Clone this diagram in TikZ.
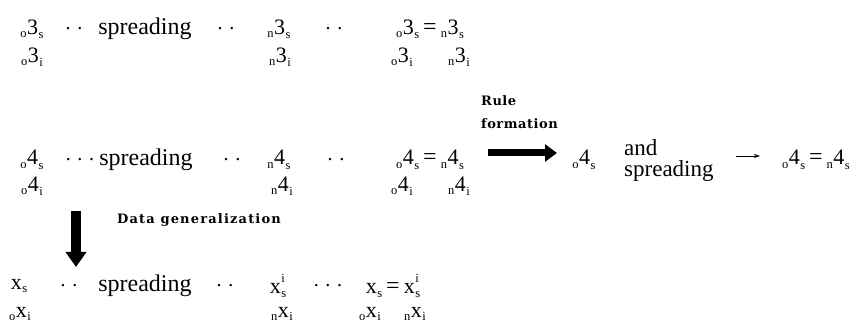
\documentclass[tikz,border=0pt]{standalone}
\usepackage{fontspec}
\setmainfont{Liberation Serif}
\newfontfamily\lblfont{DejaVu Serif}[LetterSpace=4]
\newfontfamily\dgfont{DejaVu Serif}[LetterSpace=9]
\usetikzlibrary{arrows.meta}
\newcommand{\sm}[1]{{\fontsize{12.5}{12}\selectfont #1}}
\newcommand{\bgl}[1]{{\fontsize{22}{22}\selectfont #1}}
\newcommand{\pre}[3]{\raisebox{-0.35ex}{\sm{#1}}\kern0.5pt\bgl{#2}\kern0.5pt\raisebox{-0.4ex}{\sm{#3}}}
\newcommand{\xs}[1]{\bgl{x}\kern0.5pt\raisebox{-0.3ex}{\sm{#1}}}
\newcommand{\xsup}[2]{\bgl{x}\kern0.5pt\rlap{\raisebox{1.0ex}{\sm{#2}}}\raisebox{-0.3ex}{\sm{#1}}}
\newcommand{\pxs}[2]{\raisebox{-0.35ex}{\sm{#1}}\kern0.5pt\bgl{x}\kern0.5pt\raisebox{-0.3ex}{\sm{#2}}}
\begin{document}
\begin{tikzpicture}[x=1pt,y=-1pt,
  every node/.style={inner sep=0pt,font=\fontsize{24}{24}\selectfont},
  lbl/.style={font=\lblfont\fontsize{13}{23}\selectfont\bfseries,align=left,anchor=west},
  dots/.style={font=\fontsize{20}{20}\selectfont},
  bigarrow/.style={line width=7pt,-{Triangle[length=12pt,width=17pt]}},
  smallarrow/.style={line width=0.8pt,-{Stealth[length=6pt,width=4pt]}}]
\useasboundingbox (0,0) rectangle (852,328);
% row 1
\node (a1) at (32,29) {\pre{o}{3}{s}};
\node[dots] (a1d) at (74,29) {. .};
\node (a1sp) at (145,29) {spreading};
\node[dots] (a1d2) at (226,29) {. .};
\node (a1n) at (279,29) {\pre{n}{3}{s}};
\node[dots] (a1d3) at (334,29) {. .};
\node (a1eq) at (430,29) {\pre{o}{3}{s}\,=\,\pre{n}{3}{s}};
\node (b1) at (32,57) {\pre{o}{3}{i}};
\node (b1n) at (280,57) {\pre{n}{3}{i}};
\node (b1o) at (402,57) {\pre{o}{3}{i}};
\node (b1m) at (459,57) {\pre{n}{3}{i}};
% row 2
\node (a2) at (32,160) {\pre{o}{4}{s}};
\node[dots] (a2d) at (80,160) {. . .};
\node (a2sp) at (146,160) {spreading};
\node[dots] (a2d2) at (232,160) {. .};
\node (a2n) at (279,160) {\pre{n}{4}{s}};
\node[dots] (a2d3) at (336,160) {. .};
\node (a2eq) at (430,160) {\pre{o}{4}{s}\,=\,\pre{n}{4}{s}};
\node (b2) at (32,186) {\pre{o}{4}{i}};
\node (b2n) at (282,186) {\pre{n}{4}{i}};
\node (b2o) at (402,186) {\pre{o}{4}{i}};
\node (b2m) at (459,186) {\pre{n}{4}{i}};
% rule formation
\node[lbl] (rf) at (481,112) {Rule\\formation};
\coordinate (r1) at (488,153);
\coordinate (r2) at (557,153);
\draw[bigarrow] (r1) -- (r2);
\node (c4) at (584,160) {\pre{o}{4}{s}};
\node[anchor=west,align=left,font=\fontsize{23}{21}\selectfont] (andsp) at (624,161) {and\\spreading};
\coordinate (s1) at (736,156);
\coordinate (s2) at (760,156);
\draw[smallarrow] (s1) -- (s2);
\node[anchor=east] (c4eq) at (850,160) {\pre{o}{4}{s}\,=\,\pre{n}{4}{s}};
% data generalization
\coordinate (d1) at (76,211);
\coordinate (d2) at (76,267);
\draw[line width=10pt,-{Triangle[length=15pt,width=20pt]}] (d1) -- (d2);
\node[font=\dgfont\fontsize{13}{16}\selectfont\bfseries,anchor=west] (dg) at (117,220) {Data generalization};
% row 3
\node (a3) at (19,286) {\xs{s}};
\node[dots] (a3d) at (69,286) {. .};
\node (a3sp) at (145,286) {spreading};
\node[dots] (a3d2) at (225,286) {. .};
\node (a3n) at (278,286) {\xsup{s}{i}};
\node[dots] (a3d3) at (328,286) {. . .};
\node (a3eq) at (393,286) {\xs{s}\,=\,\xsup{s}{i}};
\node (b3) at (20,314) {\pxs{o}{i}};
\node (b3n) at (282,314) {\pxs{n}{i}};
\node (b3o) at (370,314) {\pxs{o}{i}};
\node (b3m) at (415,314) {\pxs{n}{i}};
\end{tikzpicture}
\end{document}
